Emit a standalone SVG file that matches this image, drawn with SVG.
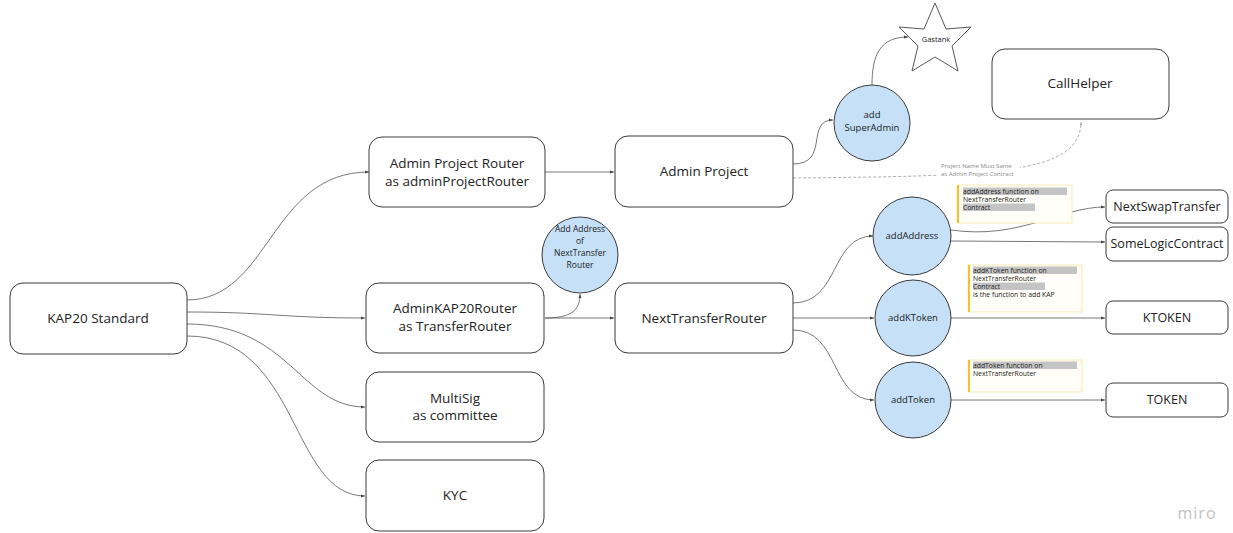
<svg xmlns="http://www.w3.org/2000/svg" width="1233" height="533" viewBox="0 0 1233 533">
<style>
.box{fill:#fff;stroke:#3a3a3a;stroke-width:1}
.circ{fill:#c5e0f7;stroke:#3a3a3a;stroke-width:1}
.t{font-family:"Open Sans","Liberation Sans",sans-serif;fill:#222;text-anchor:middle}
.big{font-size:13.5px}
.bs{font-size:12.5px}
.mid{font-size:9.5px}
.sm{font-size:8.5px}
.note{fill:#fffef8;stroke:#f5e7a6;stroke-width:0.8}
.nbar{stroke:#f2c230;stroke-width:2}
.hl{fill:#c4c4c4}
.nt{font-family:"Open Sans","Liberation Sans",sans-serif;font-size:6.8px;fill:#222}
.c{fill:none;stroke:#555;stroke-width:0.8}
.d{fill:none;stroke:#999;stroke-width:0.8;stroke-dasharray:3 2}
</style>
<defs>
<marker id="ar" viewBox="0 0 6 6" refX="6" refY="3" markerWidth="5" markerHeight="5" orient="auto">
<path d="M0,0.8 L6,3 L0,5.2 Z" fill="#444"/>
</marker>
<marker id="ard" viewBox="0 0 6 6" refX="6" refY="3" markerWidth="4" markerHeight="4" orient="auto">
<path d="M0,0.8 L6,3 L0,5.2 Z" fill="#999"/>
</marker>
</defs>
<rect width="1233" height="533" fill="#fff"/>

<g id="connectors">
<path class="c" d="M187,300 C270,300 270,172 369,172" marker-end="url(#ar)"/>
<path class="c" d="M187,312 C270,312 280,318 365,318" marker-end="url(#ar)"/>
<path class="c" d="M187,324 C290,324 300,407 365,407" marker-end="url(#ar)"/>
<path class="c" d="M187,336 C300,336 290,496 365,496" marker-end="url(#ar)"/>
<path class="c" d="M545,172 L614,172" marker-end="url(#ar)"/>
<path class="c" d="M545,318 L614,318" marker-end="url(#ar)"/>
<path class="c" d="M545,318 C572,318 580,310 580,294" marker-end="url(#ar)"/>
<path class="c" d="M793,164 C830,164 805,120 833,120" marker-end="url(#ar)"/>
<path class="c" d="M872,85 C872,55 880,37 908,37" marker-end="url(#ar)"/>
<path class="d" d="M793,178 C990,176 1081,175 1081,122" marker-end="url(#ard)"/>
<path class="c" d="M793,303 C840,303 830,236 873,236" marker-end="url(#ar)"/>
<path class="c" d="M793,318 L874,318" marker-end="url(#ar)"/>
<path class="c" d="M793,330 C840,330 830,400 874,400" marker-end="url(#ar)"/>
<path class="c" d="M951,230 C1020,240 1060,207 1105,207" marker-end="url(#ar)"/>
<path class="c" d="M951,241 L1105,242" marker-end="url(#ar)"/>
<path class="c" d="M951,318 L1105,318" marker-end="url(#ar)"/>
<path class="c" d="M951,400 L1105,400" marker-end="url(#ar)"/>
<rect x="938" y="160" width="82" height="19" fill="#fff"/>
<text font-family="'Open Sans','Liberation Sans',sans-serif" font-size="6" fill="#888"><tspan x="941" y="168">Project Name Must Same</tspan><tspan x="941" y="176">as Admin Project Contract</tspan></text>
</g>

<g id="kap20"><rect class="box" x="10" y="283" width="177" height="71" rx="13"/><text class="t big" x="98" y="323">KAP20 Standard</text></g>
<g id="adminProjectRouter"><rect class="box" x="369" y="137" width="176" height="70" rx="13"/><text class="t big" x="457" y="168">Admin Project Router</text><text class="t big" x="457" y="186">as adminProjectRouter</text></g>
<g id="adminKAP20Router"><rect class="box" x="366" y="283" width="178" height="70" rx="13"/><text class="t big" x="455" y="313">AdminKAP20Router</text><text class="t big" x="455" y="331">as TransferRouter</text></g>
<g id="multisig"><rect class="box" x="366" y="372" width="178" height="70" rx="13"/><text class="t big" x="455" y="403">MultiSig</text><text class="t big" x="455" y="420">as committee</text></g>
<g id="kyc"><rect class="box" x="366" y="460" width="178" height="71" rx="13"/><text class="t big" x="455" y="500">KYC</text></g>
<g id="adminProject"><rect class="box" x="615" y="136" width="178" height="71" rx="13"/><text class="t big" x="704" y="176">Admin Project</text></g>
<g id="nextTransferRouter"><rect class="box" x="615" y="283" width="178" height="70" rx="13"/><text class="t big" x="704" y="323">NextTransferRouter</text></g>
<g id="addAddressOf"><circle class="circ" cx="580" cy="255" r="38"/><text class="t sm" x="580" y="232">Add Address</text><text class="t sm" x="580" y="244">of</text><text class="t sm" x="580" y="256">NextTransfer</text><text class="t sm" x="580" y="268">Router</text></g>
<g id="addSuperAdmin"><circle class="circ" cx="872" cy="123" r="38"/><text class="t mid" x="872" y="118">add</text><text class="t mid" x="872" y="131">SuperAdmin</text></g>
<g id="gastank"><polygon points="935,3 946,29 971,27 952,46 958,71 935,57 912,71 918,46 899,27 924,29" fill="#fff" stroke="#444" stroke-width="0.9"/><text class="t" font-size="7.5" x="936" y="42">Gastank</text></g>
<g id="callHelper"><rect class="box" x="992" y="49" width="177" height="70" rx="13"/><text class="t big" x="1080" y="88">CallHelper</text></g>
<g id="addAddress"><circle class="circ" cx="912" cy="236" r="39"/><text class="t mid" x="912" y="239">addAddress</text></g>
<g id="addKToken"><circle class="circ" cx="913" cy="318" r="38"/><text class="t mid" x="913" y="321">addKToken</text></g>
<g id="addToken"><circle class="circ" cx="913" cy="400" r="38"/><text class="t mid" x="913" y="403">addToken</text></g>
<g id="nextSwapTransfer"><rect class="box" x="1106" y="190" width="122" height="33" rx="7"/><text class="t bs" x="1167" y="211">NextSwapTransfer</text></g>
<g id="someLogicContract"><rect class="box" x="1106" y="227" width="122" height="34" rx="7"/><text class="t bs" x="1167" y="248">SomeLogicContract</text></g>
<g id="ktoken"><rect class="box" x="1106" y="301" width="122" height="33" rx="7"/><text class="t bs" x="1167" y="322">KTOKEN</text></g>
<g id="token"><rect class="box" x="1106" y="383" width="122" height="34" rx="7"/><text class="t bs" x="1167" y="404">TOKEN</text></g>

<g id="noteAddAddress"><rect class="note" x="957" y="185" width="115" height="38"/><line class="nbar" x1="958" y1="185" x2="958" y2="223"/><rect class="hl" x="963" y="187.5" width="104" height="7.5"/><rect class="hl" x="963" y="203.5" width="72" height="7.5"/><text class="nt"><tspan x="963" y="193.5">addAddress function on</tspan><tspan x="963" y="201.5">NextTransferRouter</tspan><tspan x="963" y="209.5">Contract</tspan></text></g>
<g id="noteAddKToken"><rect class="note" x="968" y="265" width="114" height="47"/><line class="nbar" x1="969" y1="265" x2="969" y2="312"/><rect class="hl" x="973" y="266.5" width="104" height="7.5"/><rect class="hl" x="973" y="282.5" width="72" height="7.5"/><text class="nt"><tspan x="973" y="272.5">addKToken function on</tspan><tspan x="973" y="280.5">NextTransferRouter</tspan><tspan x="973" y="288.5">Contract</tspan><tspan x="973" y="296.5">is the function to add KAP</tspan></text></g>
<g id="noteAddToken"><rect class="note" x="968" y="360" width="114" height="32"/><line class="nbar" x1="969" y1="360" x2="969" y2="392"/><rect class="hl" x="973" y="361.5" width="104" height="7.5"/><text class="nt"><tspan x="973" y="367.5">addToken function on</tspan><tspan x="973" y="375.5">NextTransferRouter</tspan></text></g>

<text x="1197" y="519" font-family="'Open Sans','Liberation Sans',sans-serif" font-size="16" fill="#c2c2c8" text-anchor="middle" letter-spacing="1">miro</text>
</svg>
